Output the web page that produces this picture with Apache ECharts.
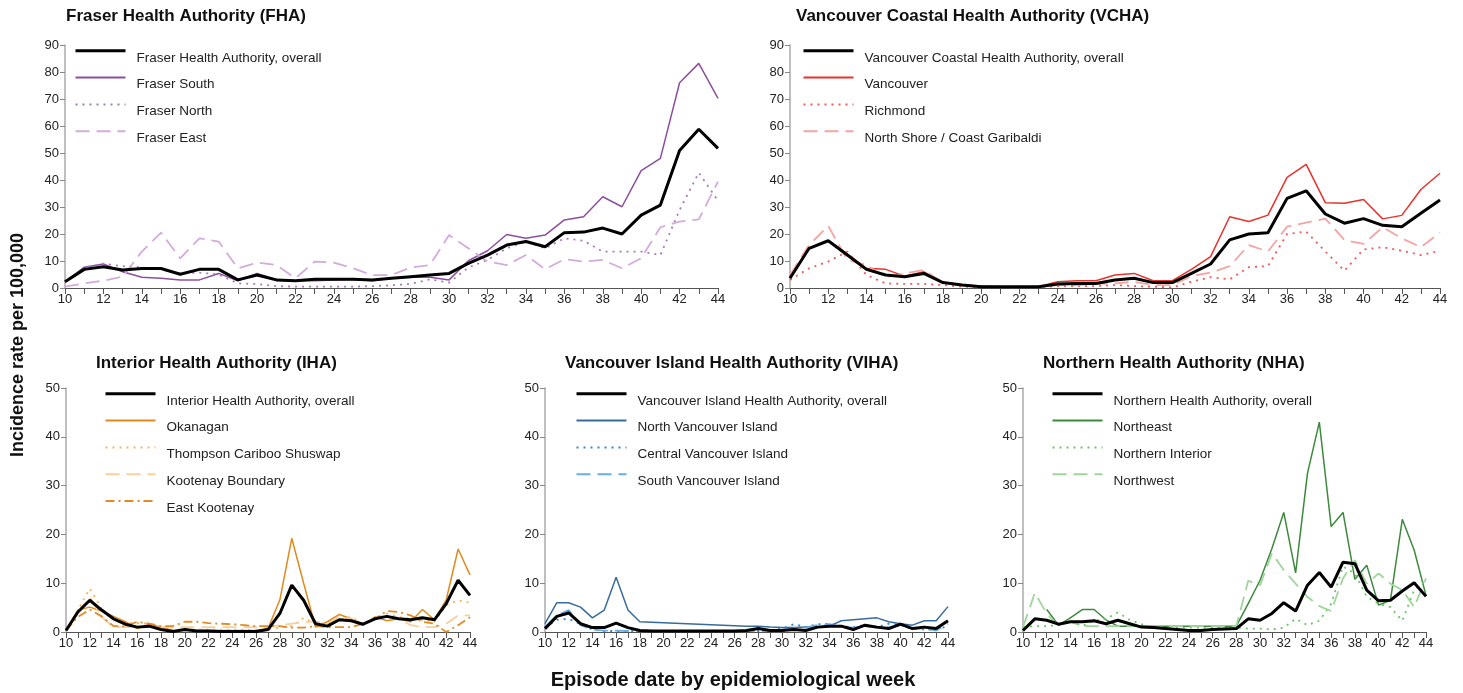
<!DOCTYPE html>
<html>
<head>
<meta charset="utf-8">
<script src="https://cdn.jsdelivr.net/npm/echarts@6/dist/echarts.min.js"></script>
<style>
html,body{margin:0;padding:0;background:#fff;}
#chart{width:1463px;height:693px;}
</style>
</head>
<body>
<div id="chart"></div>
<script>
// ---- Data (incidence rate per 100,000, weeks 10..44) ----
const weeks = ['10','11','12','13','14','15','16','17','18','19','20','21','22','23','24','25','26','27','28','29','30','31','32','33','34','35','36','37','38','39','40','41','42','43','44'];

const fhaOverall   = [2.3,6.9,7.9,6.7,7.2,7.2,5.1,6.9,6.9,3.0, 4.8,3.0,2.7,3.2,3.2,3.2,3.0,3.6,4.2,4.8, 5.4,9.1,12.2,15.9,17.2,15.3,20.5,20.7,22.2,20.0, 27.0,30.7,50.9,58.8,51.7];
const fraserSouth  = [2.3,7.7,8.9,6.0,4.0,3.6,3.0,3.0,5.4,2.7, 5.4,3.2,2.7,2.7,3.0,3.2,2.7,3.6,4.0,4.0, 3.0,10.1,13.8,19.8,18.4,19.6,25.2,26.4,33.8,30.1, 43.5,48.0,76.0,83.2,70.2];
const fraserNorth  = [2.3,7.5,9.0,8.1,7.6,6.9,5.4,5.7,5.0,1.7, 1.5,0.7,0.5,0.5,0.5,0.5,0.7,1.0,1.5,3.2, 2.0,7.6,10.4,14.7,17.2,14.7,18.4,17.5,13.5,13.5, 13.5,12.2,28.9,42.7,32.3];
const fraserEast   = [0.5,1.7,2.7,4.2,13.5,20.5,11.0,18.4,17.2,7.3, 9.4,8.5,3.6,9.8,9.4,7.3,4.8,4.8,7.6,8.5, 19.6,14.7,9.8,8.5,12.2,6.9,10.7,9.8,10.4,7.3, 11.0,22.5,24.6,25.4,39.4];

const vchaOverall  = [3.6,14.7,17.5,12.2,6.9,4.8,4.2,5.4,2.0,1.1, 0.5,0.5,0.5,0.5,1.5,1.7,1.7,3.0,3.6,2.0, 2.0,5.4,8.9,17.8,20.0,20.5,33.2,36.0,27.4,24.0, 25.7,23.2,22.7,27.7,32.6];
const vancouver    = [4.2,14.7,17.5,12.6,7.3,6.9,4.4,6.0,2.0,1.1, 0.7,0.5,0.5,0.5,2.3,2.7,2.7,4.8,5.4,2.7, 2.7,6.9,11.6,26.4,24.6,27.0,41.0,45.8,31.6,31.4, 32.8,25.6,26.9,36.5,42.5];
const richmond     = [3.0,7.3,9.8,13.5,4.8,1.7,1.5,1.5,1.1,0.5, 0.3,0.3,0.3,0.3,0.7,0.7,0.7,1.1,0.7,0.5, 0.2,2.3,4.0,3.2,7.7,8.1,20.0,20.9,13.5,6.4, 14.3,15.1,13.8,12.2,13.8];
const northShore   = [4.8,15.9,23.0,10.4,8.5,4.0,5.4,6.7,2.0,1.1, 0.5,0.5,0.5,0.5,1.1,1.1,1.5,1.7,2.3,1.1, 1.1,4.4,5.7,8.1,15.9,13.5,22.7,24.2,25.7,17.8, 16.3,22.5,18.4,15.1,20.5];

const ihaOverall   = [0.3,4.1,6.5,4.5,2.7,1.6,1.0,1.2,0.5,0.1, 0.5,0.2,0.2,0.1,0.1,0.1,0.1,0.5,3.8,9.6, 6.5,1.7,1.2,2.5,2.3,1.6,2.7,3.2,2.7,2.5, 2.9,2.5,5.8,10.6,7.5];
const okanagan     = [0.3,4.5,5.1,4.3,3.2,2.1,0.7,1.6,1.0,0.3, 0.3,0.3,0.3,0.3,0.3,0.3,0.3,0.7,6.6,19.2, 10.0,1.0,2.1,3.6,2.7,1.4,3.1,2.3,2.7,2.1, 4.6,2.5,6.6,17.0,11.7];
const thompson     = [0.3,4.5,8.9,4.8,2.4,1.8,1.8,1.7,1.0,0.5, 0.5,0.5,0.5,0.5,0.5,0.5,0.5,0.5,0.9,1.2, 2.9,1.7,1.7,2.5,3.1,1.7,2.7,3.8,3.1,2.7, 2.5,2.1,5.5,6.5,6.0];
const kootenayB    = [0.3,3.8,7.2,3.1,1.0,1.0,1.0,1.0,1.0,1.0, 1.0,1.0,1.0,1.0,1.0,1.0,1.0,1.0,1.4,1.7, 2.0,2.2,1.7,3.1,2.7,1.7,2.7,3.1,2.7,1.4, 1.0,1.0,1.7,3.4,3.4];
const eastKootenay = [0.3,3.1,4.6,3.2,1.2,1.2,2.1,1.7,1.2,1.2, 2.1,2.1,1.8,1.7,1.6,1.4,1.2,1.2,1.2,0.9, 0.9,1.2,1.0,1.0,1.0,1.7,2.7,4.3,4.1,3.4, 2.1,1.7,0.0,1.4,3.0];

const vihaOverall  = [0.7,3.2,3.9,1.7,0.9,0.9,1.8,0.9,0.3,0.2, 0.2,0.2,0.2,0.2,0.2,0.2,0.2,0.3,0.7,0.3, 0.3,0.5,0.3,1.0,1.2,1.2,0.5,1.4,1.0,0.7, 1.6,0.7,1.0,0.7,2.3];
const northVI      = [1.7,6.0,6.0,5.1,2.9,4.5,11.2,4.5,2.1,2.0, 1.9,1.8,1.7,1.6,1.5,1.4,1.3,1.2,1.2,1.0, 0.9,0.9,1.0,1.1,1.2,2.3,2.5,2.7,2.9,2.1, 1.7,1.4,2.3,2.3,5.2];
const centralVI    = [0.9,2.5,2.7,1.6,0.5,0.2,0.2,0.2,0.2,0.2, 0.2,0.2,0.2,0.2,0.2,0.2,0.2,0.2,0.2,0.3, 0.7,1.6,1.0,1.6,1.7,1.2,1.0,1.4,1.0,1.7, 1.4,0.7,0.5,0.5,1.2];
const southVI      = [1.0,3.4,4.5,1.4,0.5,0.3,0.3,0.2,0.2,0.2, 0.2,0.2,0.2,0.2,0.2,0.2,0.2,0.2,0.2,0.2, 0.5,0.7,0.9,1.4,1.6,1.0,0.9,1.2,0.9,1.0, 1.4,0.7,0.7,0.3,1.7];

const nhaOverall   = [0.3,2.7,2.4,1.6,2.1,2.1,2.3,1.7,2.4,1.7, 1.0,0.9,0.7,0.5,0.3,0.3,0.5,0.6,0.7,2.7, 2.4,3.8,6.0,4.3,9.6,12.2,9.2,14.3,14.0,8.6, 6.4,6.5,8.4,10.1,7.3];
const northeast    = [null,null,4.6,1.4,2.9,4.6,4.6,2.5,1.2,1.2, 1.2,1.2,1.2,1.2,1.2,1.2,1.2,1.2,1.2,5.8, 10.6,17.1,24.5,12.1,32.5,43.0,21.6,24.5,10.8,13.7, 5.5,6.5,23.1,16.8,7.5];
const northInterior= [1.0,1.2,1.2,1.4,2.3,1.2,2.3,2.7,4.0,2.5, 1.6,1.0,1.0,0.9,0.9,0.9,0.9,0.9,0.9,0.7, 0.7,0.5,0.9,2.7,1.4,2.3,5.8,13.4,12.0,7.2, 5.8,5.1,2.3,8.6,10.6];
const northwest    = [1.0,8.0,3.8,1.2,2.1,1.2,1.2,1.2,1.2,1.2, 1.2,1.2,1.2,1.2,1.2,1.2,1.2,1.2,1.2,10.5, 9.6,16.1,12.7,9.9,7.2,5.3,4.3,11.0,14.7,9.9, 12.0,9.9,8.6,5.1,11.0];

const topTicksMax = 90, bottomTicksMax = 50, tickStep = 10;

// ---- Chart ----
const FONT = 'Liberation Sans, Arial, sans-serif';
const chart = echarts.init(document.getElementById('chart'), null, {renderer: 'canvas'});

const panels = [
  {title: 'Fraser Health Authority (FHA)', grid: {left: 65, top: 45, width: 653, height: 243}, max: topTicksMax,
   titlePos: {left: 66, top: 8}, legendPos: {left: 74, top: 46},
   series: [
     ['Fraser Health Authority, overall', fhaOverall, '#000000', 3, 'solid'],
     ['Fraser South', fraserSouth, '#8c4f9f', 1.5, 'solid'],
     ['Fraser North', fraserNorth, '#a77bb5', 1.8, [2, 5]],
     ['Fraser East', fraserEast, '#d3abdc', 1.8, [14, 7]]
   ]},
  {title: 'Vancouver Coastal Health Authority (VCHA)', grid: {left: 790, top: 45, width: 650, height: 243}, max: topTicksMax,
   titlePos: {left: 796, top: 8}, legendPos: {left: 802, top: 46},
   series: [
     ['Vancouver Coastal Health Authority, overall', vchaOverall, '#000000', 3, 'solid'],
     ['Vancouver', vancouver, '#e8322c', 1.5, 'solid'],
     ['Richmond', richmond, '#ef5b55', 1.8, [2, 5]],
     ['North Shore / Coast Garibaldi', northShore, '#f4a5a3', 1.8, [14, 7]]
   ]},
  {title: 'Interior Health Authority (IHA)', grid: {left: 66, top: 388, width: 404, height: 244}, max: bottomTicksMax,
   titlePos: {left: 96, top: 355}, legendPos: {left: 104, top: 389},
   series: [
     ['Interior Health Authority, overall', ihaOverall, '#000000', 3, 'solid'],
     ['Okanagan', okanagan, '#e08a1c', 1.5, 'solid'],
     ['Thompson Cariboo Shuswap', thompson, '#f3b45c', 1.8, [2, 5]],
     ['Kootenay Boundary', kootenayB, '#f8cf9e', 1.8, [14, 7]],
     ['East Kootenay', eastKootenay, '#e38a25', 1.8, [9, 4, 2, 4]]
   ]},
  {title: 'Vancouver Island Health Authority (VIHA)', grid: {left: 545, top: 388, width: 403, height: 244}, max: bottomTicksMax,
   titlePos: {left: 565, top: 355}, legendPos: {left: 575, top: 389},
   series: [
     ['Vancouver Island Health Authority, overall', vihaOverall, '#000000', 3, 'solid'],
     ['North Vancouver Island', northVI, '#386c9c', 1.5, 'solid'],
     ['Central Vancouver Island', centralVI, '#2b8ad6', 1.8, [2, 5]],
     ['South Vancouver Island', southVI, '#69ade6', 1.8, [14, 7]]
   ]},
  {title: 'Northern Health Authority (NHA)', grid: {left: 1023, top: 388, width: 403, height: 244}, max: bottomTicksMax,
   titlePos: {left: 1043, top: 355}, legendPos: {left: 1051, top: 389},
   series: [
     ['Northern Health Authority, overall', nhaOverall, '#000000', 3, 'solid'],
     ['Northeast', northeast, '#3d8a3c', 1.5, 'solid'],
     ['Northern Interior', northInterior, '#68c765', 1.8, [2, 5]],
     ['Northwest', northwest, '#9fd69c', 1.8, [14, 7]]
   ]}
];

const option = {
  backgroundColor: '#ffffff',
  animation: false,
  textStyle: {fontFamily: FONT},
  grid: [], xAxis: [], yAxis: [], series: [], legend: [], title: []
};

panels.forEach((p, i) => {
  option.grid.push(Object.assign({containLabel: false}, p.grid));
  option.xAxis.push({
    type: 'category', gridIndex: i, data: weeks, boundaryGap: false,
    axisLine: {show: true, lineStyle: {color: '#555555', width: 1}},
    axisTick: {show: true, interval: 0, length: 6, lineStyle: {color: '#555555'}},
    axisLabel: {interval: 1, margin: 5, fontSize: 13, color: '#222222', fontFamily: FONT},
    splitLine: {show: false}
  });
  option.yAxis.push({
    type: 'value', gridIndex: i, min: 0, max: p.max, interval: tickStep,
    axisLine: {show: true, lineStyle: {color: '#aaaaaa', width: 1.5}},
    axisTick: {show: true, length: 5, lineStyle: {color: '#888888'}},
    axisLabel: {margin: 6, fontSize: 13, color: '#222222', fontFamily: FONT},
    splitLine: {show: false}
  });
  option.title.push({
    text: p.title, left: p.titlePos.left, top: p.titlePos.top, padding: 0,
    textStyle: {fontSize: 17, fontWeight: 'bold', color: '#111111', fontFamily: FONT}
  });
  const legendData = [];
  p.series.forEach(s => {
    legendData.push({name: s[0], lineStyle: {width: s[3] >= 3 ? 3 : 2}});
    option.series.push({
      name: s[0], type: 'line', xAxisIndex: i, yAxisIndex: i, data: s[1],
      symbol: 'none', connectNulls: false,
      lineStyle: {color: s[2], width: s[3], type: s[4]},
      itemStyle: {color: s[2]},
      z: s[2] === '#000000' ? 3 : 2
    });
  });
  option.legend.push({
    data: legendData, orient: 'vertical', left: p.legendPos.left, top: p.legendPos.top,
    padding: 0, itemWidth: 50, itemHeight: 12, itemGap: 8, selectedMode: false,
    itemStyle: {opacity: 0, borderWidth: 0},
    formatter: name => '{t|' + name + '}',
    textStyle: {fontSize: 13.5, color: '#222222', fontFamily: FONT,
      rich: {t: {fontSize: 13.5, color: '#222222', fontFamily: FONT, padding: [14, 0, 0, 6]}}}
  });
});

option.graphic = [
  {type: 'text', x: 18, y: 345, rotation: Math.PI / 2,
   style: {text: 'Incidence rate per 100,000', font: 'bold 18px ' + FONT, fill: '#111111',
           align: 'center', verticalAlign: 'middle', textAlign: 'center', textVerticalAlign: 'middle'}},
  {type: 'text', x: 733, y: 680,
   style: {text: 'Episode date by epidemiological week', font: 'bold 20px ' + FONT, fill: '#111111',
           align: 'center', verticalAlign: 'middle', textAlign: 'center', textVerticalAlign: 'middle'}}
];

chart.setOption(option);
</script>
</body>
</html>
